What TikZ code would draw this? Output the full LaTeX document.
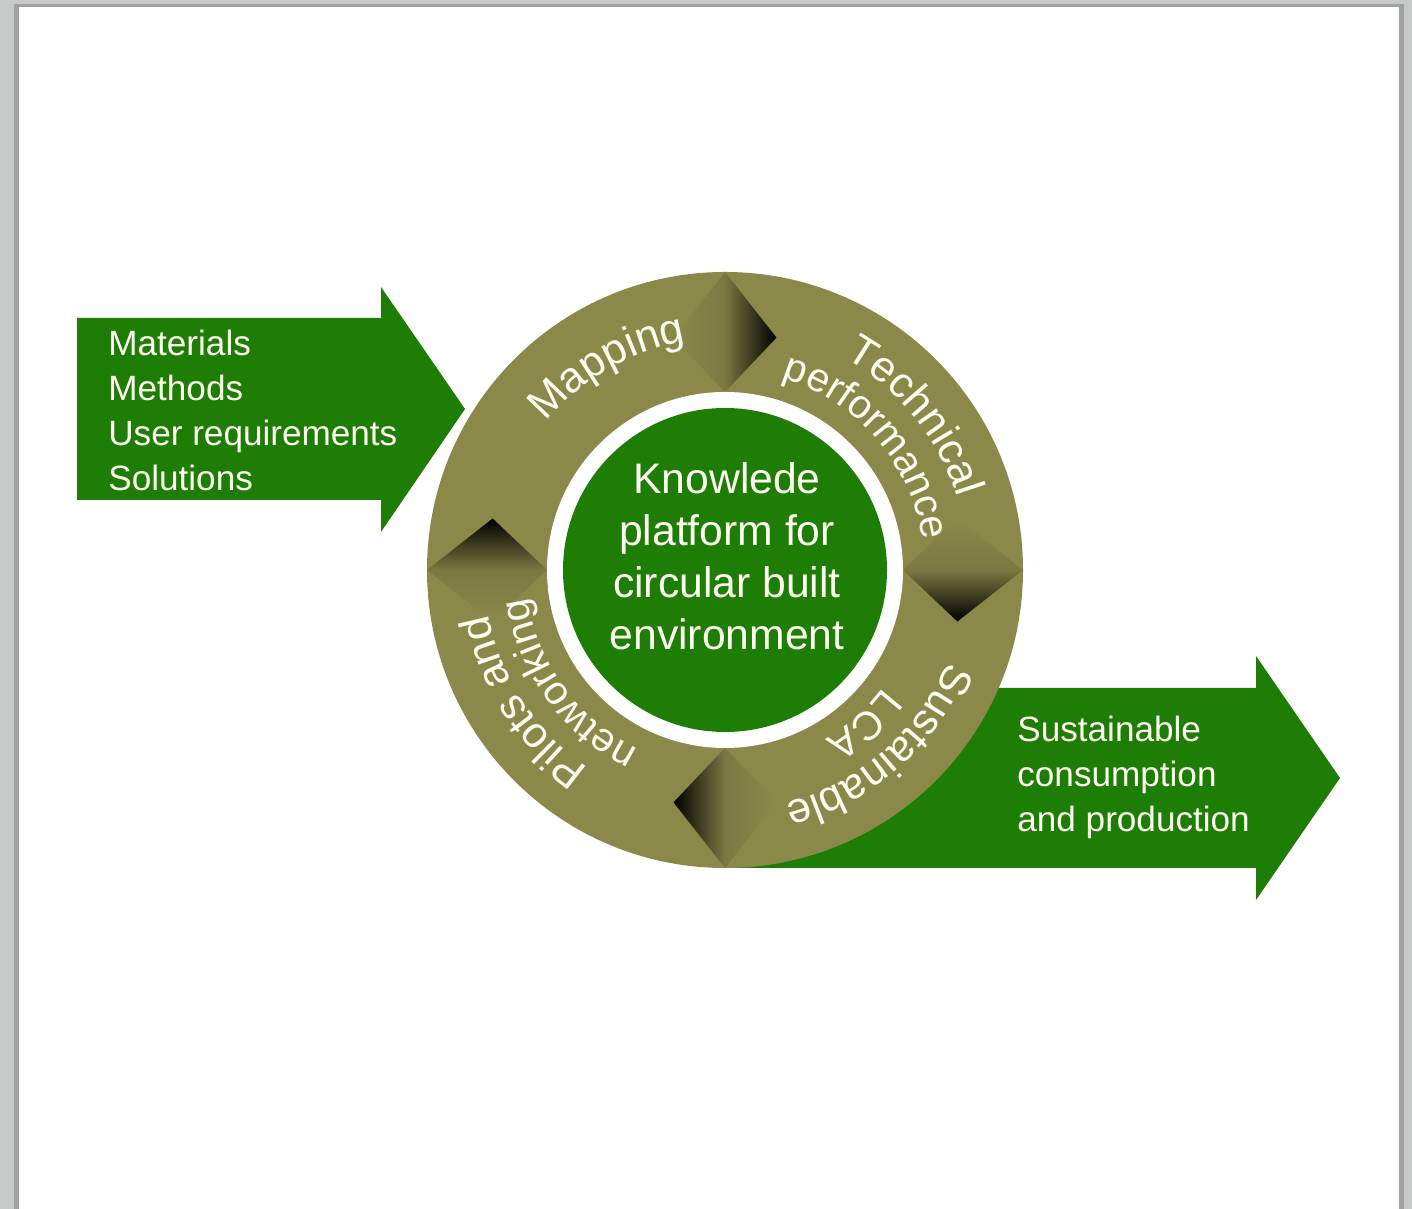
\documentclass[tikz,border=0pt]{standalone}
\usepackage{fontspec}
\setmainfont{Liberation Sans}
\usetikzlibrary{decorations.text}
\definecolor{leafgreen}{RGB}{30,125,5}
\definecolor{ringolive}{RGB}{139,137,74}
\definecolor{cream}{RGB}{252,252,240}
\definecolor{pagegray}{RGB}{200,202,201}
\definecolor{pageshade}{RGB}{160,162,161}
\newcommand\ringfont[1]{\fontsize{#1}{26}\selectfont\color{cream}}
\begin{document}
\begin{tikzpicture}[x=0.02cm, y=0.02cm,
    flow/.style={fill=leafgreen},
    listtext/.style={text=cream, font=\fontsize{20}{25.6}\selectfont, align=left, inner sep=0pt, anchor=west},
    hubtext/.style={text=cream, font=\fontsize{24.3}{29.6}\selectfont, align=center, inner sep=0pt},
    chevron/.style={top color=ringolive, bottom color=black, middle color=ringolive!88!black}]

      \useasboundingbox (0,0) rectangle (1412,1209);
      \fill[pagegray] (0,0) rectangle (1412,1209);
      \fill[pageshade] (14,0) rectangle (1404,1205);
      \fill[white] (19,0) rectangle (1399,1202);

      \coordinate (hub) at (725,639);

      \fill[flow] (77,709) -- (381,709) -- (381,677) -- (465,800) -- (381,922) -- (381,891) -- (77,891) -- cycle;
      \fill[flow] (725,341) -- (1256,341) -- (1256,309) -- (1340,431) -- (1256,553) -- (1256,521) -- (725,521) -- cycle;

      \fill[ringolive] (hub) circle (298);
      \foreach \a in {90,0,-90,180}
        \shade[chevron, shading angle=\a, shift={(hub)}] (\a+12.5:238) -- (\a:298) -- (\a-12.5:238) -- (\a:178) -- cycle;
      \fill[white] (hub) circle (178);
      \fill[leafgreen] (hub) circle (162);

      \node[hubtext] (platform) at (727,653) {Knowlede\\platform for\\circular built\\environment};

      \foreach \ang/\rad/\sz/\txt in {120/232/24.5/Mapping, 39/243/24.5/Technical, 41/200/23/performance,
          -49/241/24.5/Sustainable, -48/197/23/LCA, 213/241/24.5/Pilots and, 216/199/23/networking}
        \path[decorate, decoration={text along path, text align=center, text={|\ringfont{\sz}|\txt}}]
          ([shift={(\ang+70:\rad)}]hub) arc[start angle=\ang+70, end angle=\ang-70, radius=\rad];

      \node[listtext] (inputs) at (108,799) {Materials\\Methods\\User requirements\\Solutions};
      \node[listtext] (outputs) at (1017,432) {Sustainable\\consumption\\and production};
    \end{tikzpicture}
\end{document}
